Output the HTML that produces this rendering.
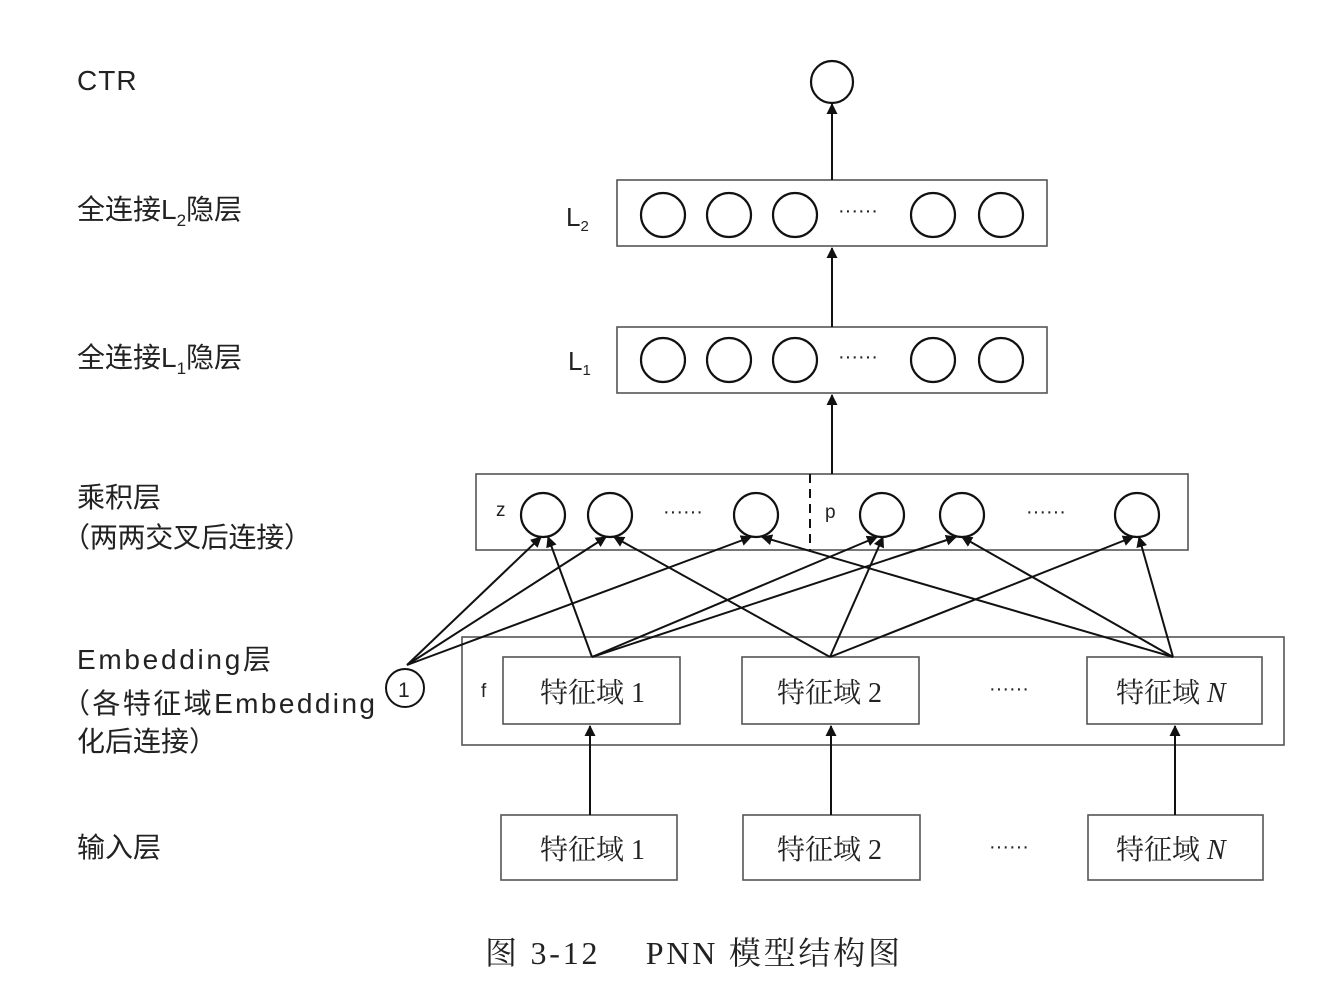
<!DOCTYPE html>
<html><head><meta charset="utf-8"><style>
body{margin:0;background:#fff}
text{font-family:"Liberation Sans","Noto Sans CJK SC",sans-serif;fill:#222}
.s{font-family:"Liberation Serif","Noto Serif CJK SC",serif}
</style></head><body>
<svg width="1326" height="990" viewBox="0 0 1326 990" xmlns="http://www.w3.org/2000/svg">
<defs><marker id="a" markerWidth="11" markerHeight="11" refX="10" refY="5.5" orient="auto" markerUnits="userSpaceOnUse"><path d="M0,0 L11,5.5 L0,11 z" fill="#111"/></marker></defs>
<g stroke="#555" stroke-width="1.6" fill="none">
<rect x="617" y="180" width="430" height="66"/>
<rect x="617" y="327" width="430" height="66"/>
<rect x="476" y="474" width="712" height="76"/>
<rect x="462" y="637" width="822" height="108"/>
<rect x="503" y="657" width="177" height="67"/>
<rect x="742" y="657" width="177" height="67"/>
<rect x="1087" y="657" width="175" height="67"/>
<rect x="501" y="815" width="176" height="65"/>
<rect x="743" y="815" width="177" height="65"/>
<rect x="1088" y="815" width="175" height="65"/>
</g>
<line x1="810" y1="474" x2="810" y2="550" stroke="#111" stroke-width="2" stroke-dasharray="9,6"/>
<g stroke="#111" stroke-width="2.2" fill="#fff">
<circle cx="832" cy="82" r="21"/>
<circle cx="663" cy="215" r="22"/><circle cx="729" cy="215" r="22"/><circle cx="795" cy="215" r="22"/><circle cx="933" cy="215" r="22"/><circle cx="1001" cy="215" r="22"/>
<circle cx="663" cy="360" r="22"/><circle cx="729" cy="360" r="22"/><circle cx="795" cy="360" r="22"/><circle cx="933" cy="360" r="22"/><circle cx="1001" cy="360" r="22"/>
<circle cx="543" cy="515" r="22"/><circle cx="610" cy="515" r="22"/><circle cx="756" cy="515" r="22"/>
<circle cx="882" cy="515" r="22"/><circle cx="962" cy="515" r="22"/><circle cx="1137" cy="515" r="22"/>
<circle cx="405" cy="688" r="19" stroke-width="2"/>
</g>
<g stroke="#111" stroke-width="2" marker-end="url(#a)">
<line x1="832" y1="180" x2="832" y2="104"/>
<line x1="832" y1="327" x2="832" y2="248"/>
<line x1="832" y1="474" x2="832" y2="395"/>
<line x1="590" y1="815" x2="590" y2="726"/>
<line x1="831" y1="815" x2="831" y2="726"/>
<line x1="1175" y1="815" x2="1175" y2="726"/>
<line x1="407" y1="665" x2="541" y2="537"/>
<line x1="407" y1="665" x2="606" y2="537"/>
<line x1="407" y1="665" x2="751" y2="537"/>
<line x1="592" y1="657" x2="548" y2="537"/>
<line x1="592" y1="657" x2="877" y2="537"/>
<line x1="592" y1="657" x2="956" y2="537"/>
<line x1="830" y1="657" x2="614" y2="537"/>
<line x1="830" y1="657" x2="883" y2="537"/>
<line x1="830" y1="657" x2="1133" y2="537"/>
<line x1="1173" y1="657" x2="762" y2="537"/>
<line x1="1173" y1="657" x2="962" y2="537"/>
<line x1="1173" y1="657" x2="1139" y2="537"/>
</g>
<g font-size="28">
<text x="77" y="90" letter-spacing="1">CTR</text>
<text x="77" y="219">全连接L<tspan font-size="17" dy="7">2</tspan><tspan dy="-7">隐层</tspan></text>
<text x="77" y="367">全连接L<tspan font-size="17" dy="7">1</tspan><tspan dy="-7">隐层</tspan></text>
<text x="77" y="507">乘积层</text>
<text x="62" y="547" textLength="250">（两两交叉后连接）</text>
<text x="77" y="669" textLength="194">Embedding层</text>
<text x="62" y="713" textLength="313">（各特征域Embedding</text>
<text x="77" y="751">化后连接）</text>
<text x="77" y="857">输入层</text>
</g>
<text x="566" y="226" font-size="26">L<tspan font-size="15" dy="5">2</tspan></text>
<text x="568" y="370" font-size="26">L<tspan font-size="15" dy="5">1</tspan></text>
<text x="496" y="516" font-size="19">z</text>
<text x="825" y="518" font-size="19">p</text>
<text x="481" y="697" font-size="19">f</text>
<text x="398" y="697" font-size="21">1</text>
<g font-size="20"><text x="838" y="217">······</text><text x="838" y="363">······</text><text x="663" y="518">······</text><text x="1026" y="518">······</text><text x="989" y="695">······</text><text x="989" y="853">······</text></g>
<g font-size="28">
<text x="540" y="702" class="s">特征域 1</text>
<text x="777" y="702" class="s">特征域 2</text>
<text x="1116" y="702" class="s">特征域 <tspan font-style="italic">N</tspan></text>
<text x="540" y="859" class="s">特征域 1</text>
<text x="777" y="859" class="s">特征域 2</text>
<text x="1116" y="859" class="s">特征域 <tspan font-style="italic">N</tspan></text>
</g>
<text x="485" y="964" font-size="32" class="s" textLength="415">图 3-12　 PNN 模型结构图</text>
</svg>
</body></html>
